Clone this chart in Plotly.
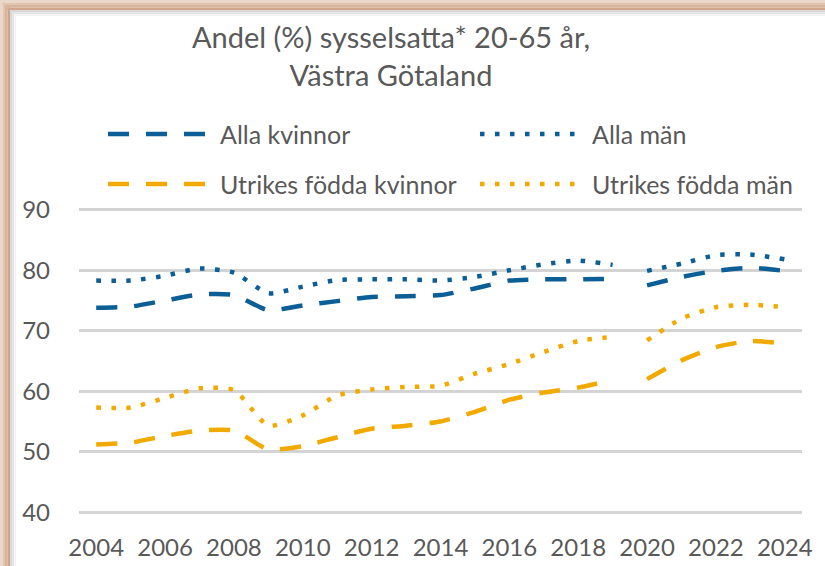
import plotly.graph_objects as go

# ---------------- data ----------------
years = list(range(2004, 2025))
break_year = 2020  # series break: no line drawn between 2019 and 2020

alla_kvinnor = [73.8, 74.0, 75.0, 76.0, 75.9, 73.4, 74.2, 74.9, 75.6, 75.7, 75.9,
                77.0, 78.3, 78.5, 78.5, 78.6, 77.5, 78.9, 79.9, 80.4, 79.9]
alla_man = [78.3, 78.3, 79.1, 80.3, 79.6, 76.2, 77.3, 78.4, 78.5, 78.5, 78.3,
            78.9, 80.0, 81.0, 81.6, 80.9, 79.9, 81.1, 82.5, 82.6, 81.8]
utrikes_kvinnor = [51.2, 51.5, 52.6, 53.5, 53.5, 50.4, 50.9, 52.4, 53.8, 54.3, 55.0,
                   56.6, 58.6, 59.8, 60.6, 61.9, 62.0, 65.1, 67.3, 68.3, 67.9]
utrikes_man = [57.3, 57.3, 58.9, 60.5, 60.2, 54.3, 56.0, 59.3, 60.3, 60.7, 60.9,
               62.9, 64.5, 66.5, 68.3, 69.0, 68.4, 72.0, 73.9, 74.3, 73.9]

series_names = ["Alla kvinnor", "Alla män", "Utrikes födda kvinnor", "Utrikes födda män"]
series_values = [alla_kvinnor, alla_man, utrikes_kvinnor, utrikes_man]
x_tick_labels = [str(y) for y in range(2004, 2025, 2)]
y_tick_values = [40, 50, 60, 70, 80, 90]

# ---------------- styles ----------------
BLUE = "#0b5e96"
ORANGE = "#f2aa00"
DASH = "21px,17px"
DOT = "4.5px,10.5px"
series_styles = [(BLUE, DASH), (BLUE, DOT), (ORANGE, DASH), (ORANGE, DOT)]
TEXT = "#595959"
FONT = "Lato"

W, H = 825, 566
Y_PAD = 0.3  # small padding so the 40 and 90 gridlines are drawn
ML, MR, MT, MB = 79, 23, 208, 52
PW, PH = W - ML - MR, H - MT - MB


def px(xp):
    return (xp - ML) / PW


def py(yp):
    return (H - MB - yp) / PH


fig = go.Figure()
for name, vals, (col, dash) in zip(series_names, series_values, series_styles):
    seg1 = [(x, v) for x, v in zip(years, vals) if x < break_year]
    seg2 = [(x, v) for x, v in zip(years, vals) if x >= break_year]
    for seg in (seg1, seg2):
        fig.add_trace(go.Scatter(
            x=[p[0] for p in seg], y=[p[1] for p in seg], mode="lines", name=name,
            line=dict(color=col, width=4.5, dash=dash, shape="spline", smoothing=0.6),
            showlegend=False, hoverinfo="skip"))

# ---------------- manual legend (Excel style long samples) ----------------
shapes = []
annotations = []
legend_pos = [(108, 134), (480, 134), (108, 184), (480, 184)]
for name, (col, dash), (lx, ly) in zip(series_names, series_styles, legend_pos):
    shapes.append(dict(type="line", xref="paper", yref="paper",
                       x0=px(lx), x1=px(lx + 100), y0=py(ly), y1=py(ly),
                       line=dict(color=col, width=4.5, dash=dash)))
    annotations.append(dict(xref="paper", yref="paper", x=px(lx + 110), y=py(ly),
                            xanchor="left", yanchor="middle", showarrow=False,
                            text=name, font=dict(family=FONT, size=25, color=TEXT)))

# title
annotations.append(dict(xref="paper", yref="paper", x=px(391), y=py(17),
                        xanchor="center", yanchor="top", showarrow=False,
                        text="Andel (%) sysselsatta* 20-65 år,<br>Västra Götaland",
                        font=dict(family=FONT, size=29, color=TEXT)))

# ---------------- frame ----------------
frame_cols = ["#ecd8cb", "#e2c5b1", "#d8b49c", "#cfa68b"]
for i, c in enumerate(frame_cols):
    a = i * 2.5
    b = a + 2.5
    shapes.append(dict(type="rect", xref="paper", yref="paper", layer="above",
                       x0=px(a), x1=px(W + 5), y0=py(a), y1=py(b),
                       line=dict(width=0), fillcolor=c))
    shapes.append(dict(type="rect", xref="paper", yref="paper", layer="above",
                       x0=px(a), x1=px(b), y0=py(a), y1=py(H + 5),
                       line=dict(width=0), fillcolor=c))
for a, c in [(10, "#d9d9d9"), (12, "#e6e6e6"), (14, "#f3f3f3")]:
    shapes.append(dict(type="rect", xref="paper", yref="paper", layer="above",
                       x0=px(a), x1=px(W + 5), y0=py(a), y1=py(a + 2),
                       line=dict(width=0), fillcolor=c))
    shapes.append(dict(type="rect", xref="paper", yref="paper", layer="above",
                       x0=px(a), x1=px(a + 2), y0=py(a), y1=py(H + 5),
                       line=dict(width=0), fillcolor=c))

fig.update_layout(
    width=W, height=H,
    margin=dict(l=ML, r=MR, t=MT, b=MB, autoexpand=False),
    paper_bgcolor="white", plot_bgcolor="white",
    showlegend=False,
    shapes=shapes, annotations=annotations,
    font=dict(family=FONT, color=TEXT),
)
fig.update_xaxes(range=[2003.5, 2024.5], tickvals=[int(t) for t in x_tick_labels],
                 ticktext=x_tick_labels, showgrid=False, zeroline=False,
                 showline=False, ticks="", ticklabelstandoff=17, automargin=False,
                 tickfont=dict(family=FONT, size=24, color=TEXT))
fig.update_yaxes(range=[min(y_tick_values) - Y_PAD, max(y_tick_values) + Y_PAD],
                 tickvals=y_tick_values, showgrid=True,
                 gridcolor="#d4d4d4", gridwidth=2.5, zeroline=False, showline=False,
                 ticks="", ticklabelstandoff=28, automargin=False,
                 tickfont=dict(family=FONT, size=24, color=TEXT))

fig.write_html("out.html", config={"displayModeBar": False},
               post_script="document.body.style.margin='0';document.body.style.overflow='hidden';")
